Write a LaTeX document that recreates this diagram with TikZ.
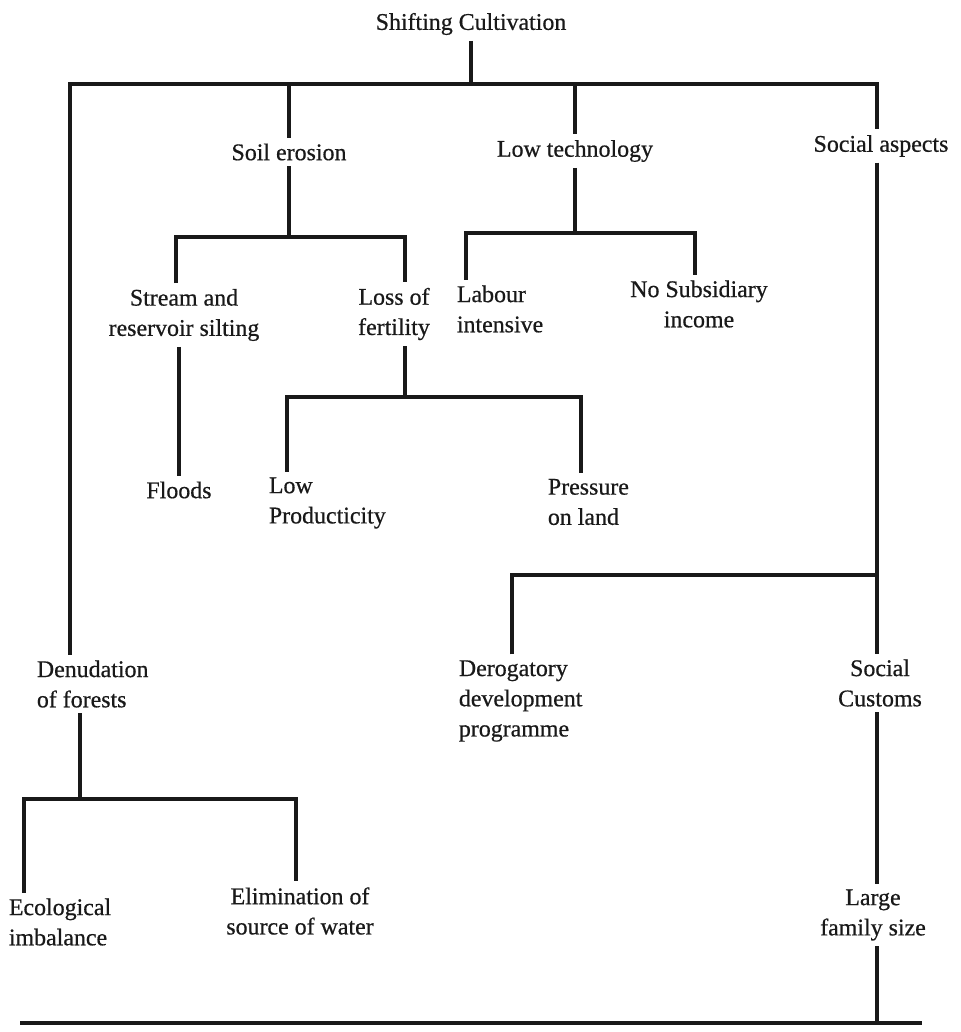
\documentclass[tikz,border=0pt]{standalone}
\usepackage{fontspec}
\setmainfont{Liberation Serif}[FakeBold=0.6]
\begin{document}
\begin{tikzpicture}[x=0.025cm,y=-0.025cm,
  lbl/.style={font=\fontsize{17}{21.5}\selectfont, inner sep=4pt, text=black!90},
  lc/.style={lbl, align=center},
  ll/.style={lbl, align=left, anchor=west},
  ln/.style={line width=2.3pt, line join=miter, draw=black!90}]
\fill[white] (0,0) rectangle (960,1032);
\useasboundingbox (0,0) rectangle (960,1032);

% nodes
\node[lbl] (root) at (471,24) {Shifting Cultivation};
\node[lbl] (soil) at (289,152) {Soil erosion};
\node[lbl] (lowtech) at (575,151) {Low technology};
\node[lbl] (social) at (881,146) {Social aspects};
\node[lc] (stream) at (184,315) {Stream and\\reservoir silting};
\node[lc] (loss) at (394,314) {Loss of\\fertility};
\node[ll] (labour) at (451,309) {Labour\\intensive};
\node[lc] (nosub) at (699,304) {No Subsidiary\\income};
\node[lbl] (floods) at (179,490) {Floods};
\node[ll] (lowprod) at (263,503) {Low\\Producticity};
\node[ll] (pressure) at (542,502) {Pressure\\on land};
\node[ll] (denud) at (31,684) {Denudation\\of forests};
\node[ll] (derog) at (453,701) {Derogatory\\development\\programme};
\node[lc] (custom) at (880,683) {Social\\Customs};
\node[ll] (ecol) at (3,922) {Ecological\\imbalance};
\node[lc] (elim) at (300,911) {Elimination of\\source of water};
\node[lc] (large) at (873,915) {Large\\family size};

% junction coordinates
\coordinate (tl) at (70,84);
\coordinate (tr) at (877,84);
\coordinate (sbl) at (176,237);
\coordinate (sbr) at (405,237);
\coordinate (lbl) at (287,397);
\coordinate (lbr) at (581,397);
\coordinate (tbl) at (466,233);
\coordinate (tbr) at (695,233);
\coordinate (cbl) at (512,575);
\coordinate (dj) at (80,799);
\coordinate (dbl) at (24,799);
\coordinate (dbr) at (296,799);
\coordinate (bl) at (20,1023);
\coordinate (be) at (922,1023);

% connectors
\draw[ln] (root) -- (root |- tl);
\draw[ln] (denud.north -| tl) -- (tl) -- (tr) -- (social.north -| tr);
\draw[ln] (soil |- tl) -- (soil);
\draw[ln] (lowtech |- tl) -- (lowtech);

\draw[ln] (soil) -- (soil |- sbl);
\draw[ln] (stream.north -| sbl) -- (sbl) -- (sbr) -- (loss.north -| sbr);
\draw[ln] (stream.south -| floods) -- (floods);
\draw[ln] (loss.south -| sbr) -- (sbr |- lbl);
\draw[ln] (lowprod.north -| lbl) -- (lbl) -- (lbr) -- (pressure.north -| lbr);

\draw[ln] (lowtech) -- (lowtech |- tbl);
\draw[ln] (labour.north -| tbl) -- (tbl) -- (tbr) -- (nosub.north -| tbr);

\draw[ln] (social.south -| tr) -- (custom.north -| tr);
\draw[ln] (derog.north -| cbl) -- (cbl) -- (cbl -| tr);
\draw[ln] (custom.south -| tr) -- (large.north -| tr);
\draw[ln] (large.south -| tr) -- (tr |- bl);
\draw[ln] (bl) -- (be);

\draw[ln] (denud.south -| dj) -- (dj);
\draw[ln] (ecol.north -| dbl) -- (dbl) -- (dbr) -- (elim.north -| dbr);
\end{tikzpicture}
\end{document}
